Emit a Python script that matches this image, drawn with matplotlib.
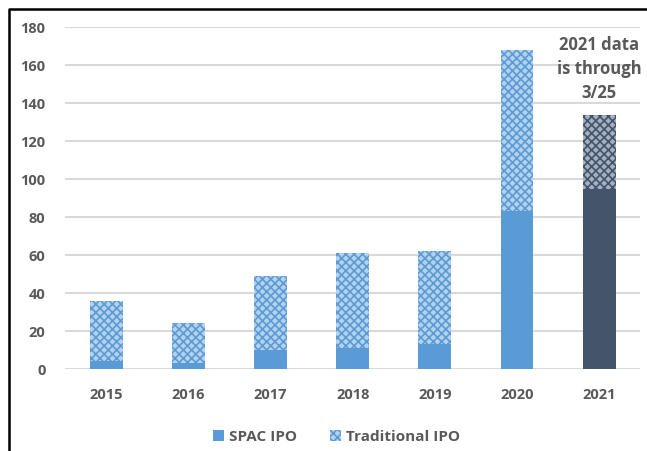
import matplotlib
matplotlib.use('Agg')
import matplotlib.pyplot as plt
from matplotlib.lines import Line2D

plt.rcParams['font.family'] = ['Open Sans', 'DejaVu Sans']
plt.rcParams['hatch.linewidth'] = 1.2

# IPO counts per year (2021 through 3/25)
years = ['2015', '2016', '2017', '2018', '2019', '2020', '2021']
spac_ipo = [4, 3, 10, 11, 13, 83, 95]
traditional_ipo = [32, 21, 39, 50, 49, 85, 39]

spac_colors = ['#5B9BD5'] * 6 + ['#44546A']
trad_face = ['#B4D1EE'] * 6 + ['#A3AFC2']
text_col = '#595959'

fig = plt.figure(figsize=(6.47, 4.51), dpi=100)
ax = fig.add_axes([0.1005, 0.1818, 0.889, 0.758])

x = range(len(years))
ax.bar(x, spac_ipo, width=0.4, color=spac_colors, linewidth=0, zorder=3)
ax.bar(x, traditional_ipo, width=0.4, bottom=spac_ipo, color=trad_face,
       edgecolor=spac_colors, hatch='xxxx', linewidth=0, zorder=3)

ax.set_xlim(-0.5, len(years) - 0.5)
ax.set_ylim(0, 180)
ax.set_yticks(range(0, 181, 20))
ax.set_xticks(list(x))
ax.set_xticklabels(years)
ax.grid(axis='y', color='#D9D9D9', linewidth=1.5, zorder=0)
for s in ax.spines.values():
    s.set_visible(False)
ax.tick_params(length=0, labelsize=10.5, labelcolor=text_col)
ax.tick_params(axis='y', pad=14)
ax.tick_params(axis='x', pad=14)
for lab in ax.get_xticklabels() + ax.get_yticklabels():
    lab.set_fontweight('bold')

ax.text(6, 158, '2021 data\nis through\n3/25', ha='center', va='center',
        fontsize=12, fontweight='bold', color=text_col, linespacing=1.4)

handles = [plt.Rectangle((0, 0), 1, 1, color='#5B9BD5', linewidth=0),
           plt.Rectangle((0, 0), 1, 1, facecolor='#B4D1EE', edgecolor='#5B9BD5',
                         hatch='xxxx', linewidth=0)]
fig.legend(handles, ['SPAC IPO', 'Traditional IPO'], loc='center',
           bbox_to_anchor=(0.52, 0.031), ncol=2, frameon=False,
           handlelength=0.7, handleheight=0.7, handletextpad=0.3,
           columnspacing=2.2, prop={'size': 11, 'weight': 'bold'},
           labelcolor=text_col)

# frame around the picture
fig.add_artist(Line2D([0.0135, 0.0135, 1.0], [0.0, 0.98, 0.98],
                      color='black', linewidth=1.8))

fig.savefig('out.png', dpi=100)
